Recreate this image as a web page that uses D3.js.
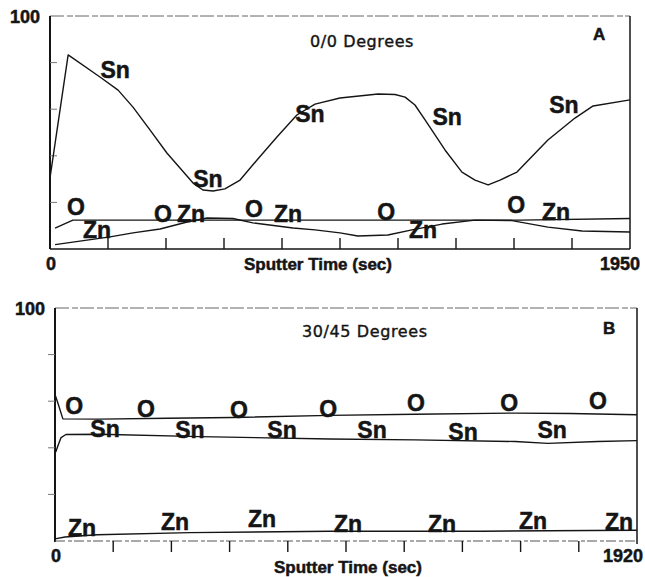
<!DOCTYPE html>
<html>
<head>
<meta charset="utf-8">
<script src="https://cdn.jsdelivr.net/npm/d3@7"></script>
<style>
  html, body { margin: 0; padding: 0; background: #fff; }
  svg { display: block; }
</style>
</head>
<body>
<svg id="chart" width="645" height="577"></svg>
<script>
// ---------------- DATA ----------------
// Panel A: 0/0 Degrees, sputter time 0..1950 s, atomic % 0..100
const timeMaxA = 1950;
const snA = [[0,30.5],[61,83.3],[168,73.8],[229,68.2],[279,60.9],[336,51.1],[393,41.2],[437,34.8],[481,28.3],[514,25.3],[548,24.9],[588,25.8],[639,29.6],[696,38.2],[763,48.1],[830,57.5],[891,62.2],[975,64.8],[1103,66.5],[1160,66.3],[1194,65.2],[1227,61.8],[1261,55.4],[1328,42.5],[1385,33],[1429,29.6],[1473,27.5],[1513,29.6],[1570,33],[1674,46.8],[1765,56.2],[1826,61.4],[1950,64]];
const oA = [[17,9],[77,12.4],[504,12.4],[1009,12.4],[1580,12.4],[1950,13.1]];
const znA = [[17,1.9],[202,5.2],[279,6.9],[370,8.6],[461,11.6],[528,13.3],[615,13.1],[682,11.2],[817,9],[891,8.2],[975,6.9],[1035,5.6],[1136,6],[1217,8.2],[1318,10.7],[1429,12.4],[1553,12.2],[1674,9.4],[1789,7.7],[1950,7.3]];
const labelsA = [
  ["Sn",219,73.4],["Sn",531,26.6],["Sn",874,54.5],["Sn",1335,53.2],["Sn",1728,58.4],
  ["O",87,14.6],["O",380,11.6],["Zn",474,11.6],["O",686,13.7],["Zn",800,11.6],
  ["Zn",158,4.7],["O",1130,12.4],["Zn",1254,4.7],["O",1567,15.5],["Zn",1701,12.4]
];

// Panel B: 30/45 Degrees, sputter time 0..1920 s
const timeMaxB = 1920;
const oB = [[0,62.9],[10,59],[26,52.4],[148,52.3],[370,52.7],[587,53],[907,53.9],[1188,54.4],[1518,54.9],[1699,54.7],[1920,54.2]];
const snB = [[0,38.8],[3,38.4],[10,41],[20,44.4],[36,45.7],[148,45.8],[478,44.8],[907,43.8],[1188,43.4],[1518,42.7],[1626,41.9],[1791,42.7],[1920,43.1]];
const znB = [[0,0.9],[33,1.7],[139,2.7],[445,3.6],[907,4.2],[1409,4.2],[1765,4.5],[1920,4.6]];
const labelsB = [
  ["O",63,54.3],["O",300,53.4],["O",607,52.6],["O",901,53.4],["O",1191,55.6],["O",1498,55.6],["O",1791,56.5],
  ["Sn",165,44.8],["Sn",445,44],["Sn",749,44],["Sn",1046,44],["Sn",1346,43.5],["Sn",1640,44],
  ["Zn",89,2.2],["Zn",396,4.7],["Zn",683,6],["Zn",967,3.9],["Zn",1277,3.9],["Zn",1577,5.2],["Zn",1861,4.7]
];

const yTicks = [0, 20, 40, 60, 80, 100];
const xTickCount = 10;

// ---------------- DRAW ----------------
const svg = d3.select("#chart");
const ink = "#151515";
const boldFont = "'Liberation Sans', Arial, Helvetica, sans-serif";

function boldText(g, size) {
  return g.append("text")
    .attr("font-family", boldFont).attr("font-weight", "bold").attr("font-size", size)
    .attr("fill", ink).attr("stroke", ink).attr("stroke-width", 0.5);
}

function panel(cfg) {
  const x = d3.scaleLinear().domain([0, cfg.tmax]).range([cfg.left, cfg.right]);
  const y = d3.scaleLinear().domain([0, 100]).range([cfg.bottom, cfg.top]);
  const g = svg.append("g");

  // frame: top faint dashed
  g.append("line").attr("x1", cfg.left).attr("x2", cfg.right).attr("y1", cfg.top).attr("y2", cfg.top)
    .attr("stroke", "#666").attr("stroke-width", 1).attr("stroke-dasharray", "14,3,6,2");
  // left axis
  g.append("line").attr("x1", cfg.left).attr("x2", cfg.left).attr("y1", cfg.top).attr("y2", cfg.bottom + (cfg.tickDir > 0 ? 1 : 0))
    .attr("stroke", ink).attr("stroke-width", 2);
  // right axis
  g.append("line").attr("x1", cfg.right).attr("x2", cfg.right).attr("y1", cfg.top).attr("y2", cfg.bottom + cfg.rightExtra)
    .attr("stroke", ink).attr("stroke-width", 1.5);
  // bottom axis
  g.append("line").attr("x1", cfg.left).attr("x2", cfg.right).attr("y1", cfg.bottom).attr("y2", cfg.bottom)
    .attr("stroke", cfg.bottomFaint ? "#555" : ink).attr("stroke-width", cfg.bottomFaint ? 1 : 1.6)
    .attr("stroke-dasharray", cfg.bottomFaint ? "10,3,4,2" : null);

  // x ticks
  const xt = d3.range(1, xTickCount).map(i => i * cfg.tmax / xTickCount);
  g.selectAll(".xt").data(xt).enter().append("line")
    .attr("x1", d => x(d)).attr("x2", d => x(d))
    .attr("y1", cfg.bottom).attr("y2", cfg.bottom + cfg.tickDir * 11)
    .attr("stroke", ink).attr("stroke-width", 1.4);
  // y ticks (faint)
  g.selectAll(".yt").data(yTicks.slice(1, -1)).enter().append("line")
    .attr("x1", cfg.left).attr("x2", cfg.left + cfg.yTickDir * 7)
    .attr("y1", d => y(d)).attr("y2", d => y(d))
    .attr("stroke", "#777").attr("stroke-width", 1);

  // series
  const line = d3.line().x(d => x(d[0])).y(d => y(d[1])).curve(d3.curveLinear);
  cfg.series.forEach(s => {
    g.append("path").attr("d", line(s)).attr("fill", "none")
      .attr("stroke", ink).attr("stroke-width", 1.4).attr("stroke-linejoin", "round");
  });

  // in-plot labels
  cfg.labels.forEach(d => {
    boldText(g, 23).attr("x", x(d[1])).attr("y", y(d[2])).attr("text-anchor", "middle").text(d[0]);
  });

  // axis texts
  boldText(g, 18).attr("x", cfg.left - 10).attr("y", cfg.top + 7).attr("text-anchor", "end").text("100");
  boldText(g, 18).attr("x", x(0) + 1).attr("y", cfg.xLabelY).attr("text-anchor", "middle").text("0");
  boldText(g, 18).attr("x", cfg.right + cfg.maxLabelDx).attr("y", cfg.xLabelY).attr("text-anchor", "end").text(String(cfg.tmax));
  boldText(g, 17).attr("x", cfg.titleCx).attr("y", cfg.axisTitleY).attr("text-anchor", "middle").text("Sputter Time (sec)");
  g.append("text").attr("x", cfg.degX).attr("y", cfg.degY)
    .attr("font-family", "'DejaVu Sans', sans-serif").attr("font-size", 16).attr("letter-spacing", 0.6)
    .attr("fill", ink).attr("stroke", ink).attr("stroke-width", 0.4).text(cfg.degrees);
  boldText(g, 17).attr("x", cfg.letterX).attr("y", cfg.letterY).text(cfg.letter);
}

panel({
  tmax: timeMaxA, left: 50, right: 630, top: 16, bottom: 249,
  tickDir: -1, yTickDir: 1, rightExtra: 0, bottomFaint: false,
  series: [snA, oA, znA], labels: labelsA,
  xLabelY: 270, axisTitleY: 270, maxLabelDx: 10, titleCx: 318,
  degrees: "0/0 Degrees", degX: 310, degY: 47, letter: "A", letterX: 593, letterY: 40
});

panel({
  tmax: timeMaxB, left: 55, right: 637, top: 308, bottom: 541,
  tickDir: 1, yTickDir: -1, rightExtra: 3, bottomFaint: true,
  series: [oB, snB, znB], labels: labelsB,
  xLabelY: 562, axisTitleY: 573, maxLabelDx: 6, titleCx: 348,
  degrees: "30/45 Degrees", degX: 302, degY: 337, letter: "B", letterX: 603, letterY: 334
});
</script>
</body>
</html>
